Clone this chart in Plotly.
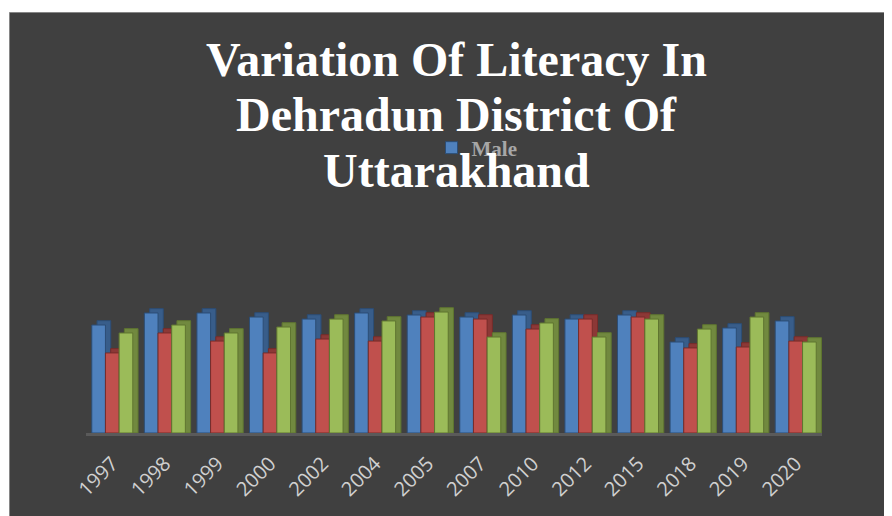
import plotly.graph_objects as go

years = ["1997", "1998", "1999", "2000", "2002", "2004", "2005",
         "2007", "2010", "2012", "2015", "2018", "2019", "2020"]
male = [80.0, 88.9, 88.9, 85.9, 84.4, 88.9, 87.4, 85.9, 87.4, 84.4, 87.4, 67.4, 77.8, 83.0]
female = [59.3, 74.1, 68.1, 59.3, 69.6, 68.1, 85.9, 84.4, 77.0, 84.4, 85.9, 63.0, 63.7, 68.1]
total = [74.1, 80.0, 74.1, 78.5, 84.4, 83.0, 89.6, 71.1, 81.5, 71.1, 84.4, 77.0, 85.9, 67.4]
title_lines = ["Variation Of Literacy In", "Dehradun District Of", "Uttarakhand"]

W, H = 892, 516
OFF = 8  # page body margin offset
ML, MR, MT, MB = 78, 78, 290, 91
PW, PH = W - ML - MR, H - MT - MB


def fx(sx):
    return (sx - OFF - ML) / PW


def fy(sy):
    return (H - MB - (sy - OFF)) / PH


series = [
    ("Male", male, "#4f81bd", "#385d8a", "#2c4d75", -0.39, True),
    ("Female", female, "#c0504d", "#8c3836", "#772c2a", -0.13, False),
    ("Total", total, "#9bbb59", "#71893f", "#5f7530", 0.13, False),
]
BW = 0.26
DX = 0.1
DY = 3.2

fig = go.Figure()
for name, vals, col, dark, edge, off, leg in series:
    fig.add_trace(go.Bar(
        x=years, y=[v + DY for v in vals], offset=off + DX, width=BW,
        marker=dict(color=dark, line=dict(color=edge, width=1)),
        showlegend=False, hoverinfo="skip",
    ))
    fig.add_trace(go.Bar(
        x=years, y=vals, offset=off, width=BW, name=name,
        marker=dict(color=col, line=dict(color=edge, width=1)),
        showlegend=leg,
    ))

title_y = [59.5, 114.5, 170]
annotations = [
    dict(text="<b>%s</b>" % t, x=fx(456.5), y=fy(yy), xref="paper", yref="paper",
         xanchor="center", yanchor="middle", showarrow=False,
         font=dict(family="Liberation Serif", size=48, color="white"))
    for t, yy in zip(title_lines, title_y)
]

fig.update_layout(
    width=W, height=H,
    margin=dict(l=ML, r=MR, t=MT, b=MB),
    paper_bgcolor="white",
    plot_bgcolor="#404040",
    barmode="overlay",
    annotations=annotations,
    legend=dict(
        orientation="h", x=fx(431.5), xanchor="left", y=fy(148), yanchor="middle",
        font=dict(family="Liberation Serif", size=21, color="#a6a6a6", weight="bold"),
        bgcolor="rgba(0,0,0,0)",
    ),
    shapes=[dict(
        type="rect", xref="paper", yref="paper", layer="below",
        x0=fx(9.5), x1=fx(910), y0=fy(540), y1=fy(12.5),
        fillcolor="#404040", line=dict(color="#868686", width=1),
    )],
    xaxis=dict(
        type="category", range=[-0.5, 13.5], showgrid=False, zeroline=False,
        showline=True, linecolor="#5a5a5a", linewidth=3,
        tickangle=-45, ticks="", ticklabelstandoff=8,
        tickfont=dict(family="Open Sans", size=20, color="#d0d0d0"),
    ),
    yaxis=dict(range=[0, 100], visible=False, showgrid=False, zeroline=False),
)

fig.write_html("out.html")
